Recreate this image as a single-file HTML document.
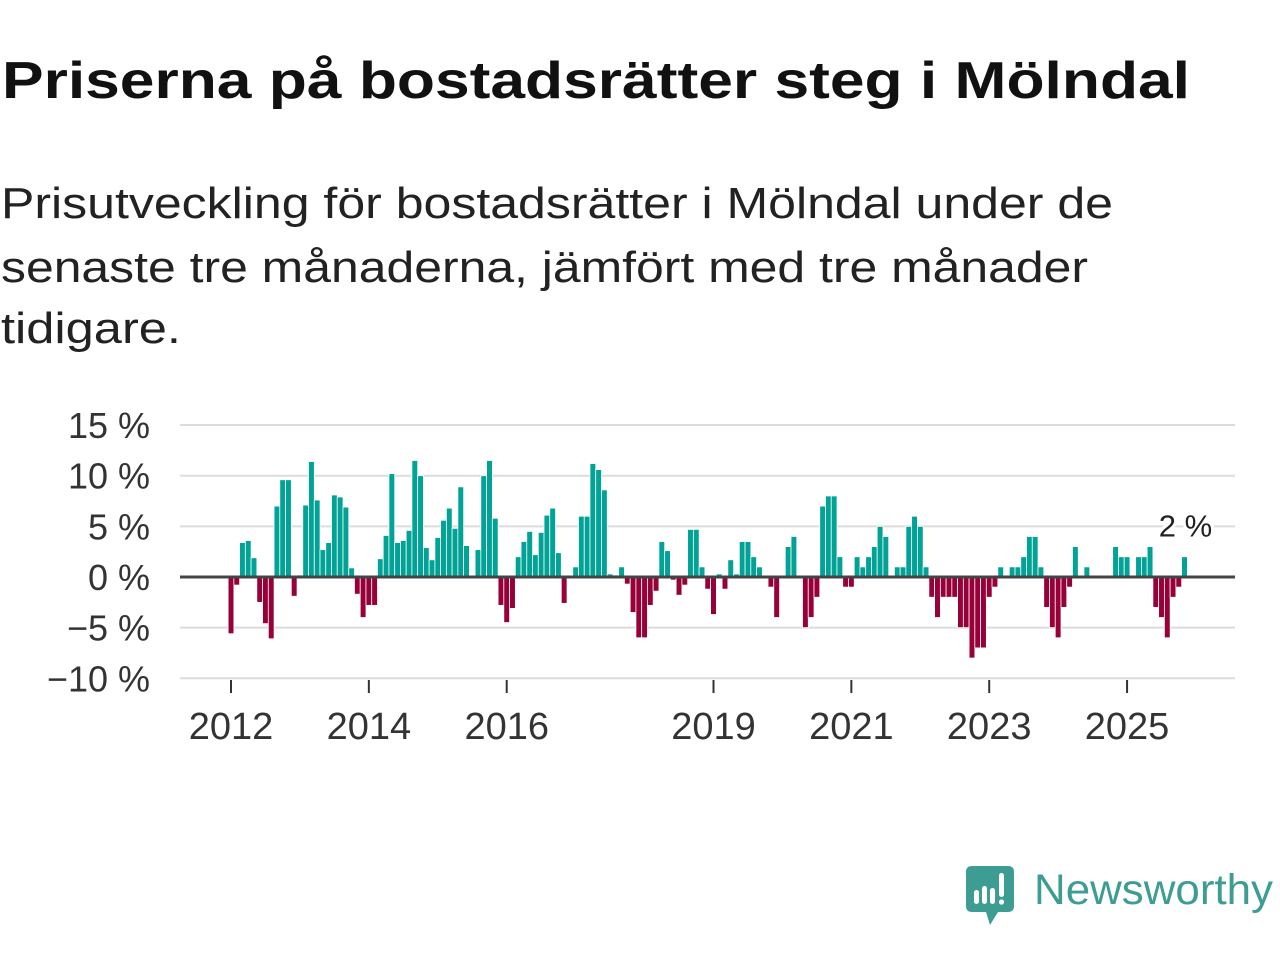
<!DOCTYPE html>
<html><head><meta charset="utf-8"><style>
html,body{margin:0;padding:0;background:#fff;width:1280px;height:960px;overflow:hidden}
svg{display:block}
text{font-family:"Liberation Sans",sans-serif}
</style></head><body>
<svg id="chart" width="1280" height="960" viewBox="0 0 1280 960">
<text x="2" y="98" font-size="52" font-weight="bold" fill="#111" textLength="1188" lengthAdjust="spacingAndGlyphs">Priserna på bostadsrätter steg i Mölndal</text>
<g font-size="44" fill="#222">
<text x="1" y="218" textLength="1112" lengthAdjust="spacingAndGlyphs">Prisutveckling för bostadsrätter i Mölndal under de</text>
<text x="1" y="282" textLength="1087" lengthAdjust="spacingAndGlyphs">senaste tre månaderna, jämfört med tre månader</text>
<text x="1" y="343" textLength="180" lengthAdjust="spacingAndGlyphs">tidigare.</text>
</g>
<g id="grid"></g>
<g id="yticks"></g>
<g id="xticks"></g>
<g id="bars"></g>
<line id="zero" x1="180" x2="1235" stroke="#444" stroke-width="3"/>
<text id="lastlabel" font-size="31" fill="#222" stroke="#fff" stroke-width="6" paint-order="stroke" text-anchor="middle">2 %</text>
<g>
<path d="M972 866 H1008 Q1014 866 1014 872 V906 Q1014 912 1008 912 H998 L990 925 L986 912 H972 Q966 912 966 906 V872 Q966 866 972 866 Z" fill="#3d9d93"/>
<rect x="974" y="890" width="5" height="14" rx="2.5" fill="#fff"/>
<rect x="982" y="886" width="5" height="18" rx="2.5" fill="#fff"/>
<rect x="990" y="888" width="5" height="16" rx="2.5" fill="#fff"/>
<rect x="999" y="873" width="5" height="24" rx="2.5" fill="#fff"/>
<circle cx="1001.5" cy="902" r="2.6" fill="#fff"/>
<text x="1034" y="904" font-size="43" fill="#3d9d93" textLength="239" lengthAdjust="spacingAndGlyphs">Newsworthy</text>
</g>
</svg>
<script>
const values = [-5.6,-0.8,3.4,3.6,1.9,-2.5,-4.6,-6.1,7.0,9.6,9.6,-1.9,0.2,7.1,11.4,7.6,2.7,3.4,8.1,7.9,6.9,0.9,-1.7,-4.0,-2.8,-2.8,1.8,4.1,10.2,3.4,3.6,4.6,11.5,10.0,2.9,1.7,3.9,5.6,6.8,4.8,8.9,3.1,0,2.7,10.0,11.5,5.8,-2.8,-4.5,-3.1,2.0,3.5,4.5,2.2,4.4,6.1,6.8,2.4,-2.6,0,1.0,6.0,6.0,11.2,10.6,8.6,0.3,0.2,1.0,-0.7,-3.5,-6.0,-6.0,-2.8,-1.4,3.5,2.6,-0.3,-1.8,-0.8,4.7,4.7,1.0,-1.2,-3.7,0.3,-1.2,1.7,0.3,3.5,3.5,2.0,1.0,0,-1.0,-4.0,0,3.0,4.0,0,-5.0,-4.0,-2.0,7.0,8.0,8.0,2.0,-1.0,-1.0,2.0,1.0,2.0,3.0,5.0,4.0,0,1.0,1.0,5.0,6.0,5.0,1.0,-2.0,-4.0,-2.0,-2.0,-2.0,-5.0,-5.0,-8.0,-7.0,-7.0,-2.0,-1.0,1.0,0,1.0,1.0,2.0,4.0,4.0,1.0,-3.0,-5.0,-6.0,-3.0,-1.0,3.0,0,1.0,0,0,0,0,3.0,2.0,2.0,0,2.0,2.0,3.0,-3.0,-4.0,-6.0,-2.0,-1.0,2.0];
const startYear = 2012;
const yTicks = [15,10,5,0,-5,-10];
const xTickYears = [2012,2014,2016,2019,2021,2023,2025];
const lastLabel = "2 %";

const NS="http://www.w3.org/2000/svg";
const x0=231, perMonth=5.744;
function xScale(i){return x0+i*perMonth;}
function xYear(y){return xScale((y-startYear)*12);}
function yScale(v){return 577-v*10.13;}
function mk(tag,attrs,parent){const e=document.createElementNS(NS,tag);for(const k in attrs)e.setAttribute(k,attrs[k]);parent.appendChild(e);return e;}

const grid=document.getElementById('grid'), yt=document.getElementById('yticks'), xt=document.getElementById('xticks'), bars=document.getElementById('bars');
yTicks.forEach(v=>{
  const l=mk('line',{x1:180,x2:1235,y1:yScale(v),y2:yScale(v),stroke:'#dcdcdc','stroke-width':2},grid);
  
  
  const t=mk('text',{x:150,y:yScale(v)+13,'font-size':36,fill:'#333','text-anchor':'end'},yt);
  t.textContent=(v<0?'\u2212'+(-v):v)+' %';
  
  
});
xTickYears.forEach(y=>{
  const x=xYear(y);
  const l=mk('line',{x1:x,x2:x,y1:680,y2:693,stroke:'#333','stroke-width':2},xt);
  
  
  const t=mk('text',{x:x,y:739,'font-size':38,fill:'#333','text-anchor':'middle'},xt);
  t.textContent=y;
  
  
});
values.forEach((v,i)=>{
  if(v===0)return;
  const x=xScale(i)-2.9;
  const y0=yScale(0), y1=yScale(v);
  const r=mk('rect',{x:x,y:Math.min(y0,y1),width:5.8,height:Math.abs(y1-y0),fill:v>0?'#00a396':'#98003a',stroke:'#fff','stroke-width':0.8},bars);
  
  
});
const zl=document.getElementById('zero');zl.setAttribute('y1',yScale(0));zl.setAttribute('y2',yScale(0));
const ll=document.getElementById('lastlabel');
const li=values.length-1;
ll.setAttribute('x',xScale(li)+1);
ll.setAttribute('y',yScale(values[li])-20);
ll.textContent=lastLabel;
</script>
</body></html>
